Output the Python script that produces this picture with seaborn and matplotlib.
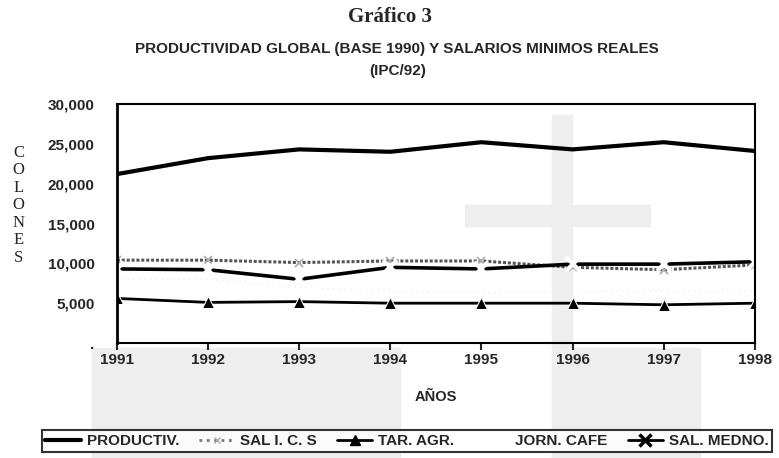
import numpy as np
import pandas as pd
import matplotlib
matplotlib.use("Agg")
import matplotlib.pyplot as plt
import seaborn as sns
from matplotlib.lines import Line2D
from matplotlib.patches import Rectangle

years = [1991, 1992, 1993, 1994, 1995, 1996, 1997, 1998]
productiv = [21200, 23200, 24300, 24000, 25200, 24300, 25200, 24100]
sal_ics = [10400, 10400, 10100, 10300, 10300, 9500, 9200, 9800]
tar_agr = [5600, 5100, 5200, 5000, 5000, 5000, 4800, 5000]
jorn_cafe = [8000, 8000, 7000, 6500, 6300, 6500, 6500, 6500]
sal_medno = [9300, 9200, 8000, 9500, 9300, 9900, 9900, 10200]

series_names = ["PRODUCTIV.", "SAL I. C. S", "TAR. AGR.", "JORN. CAFE", "SAL. MEDNO."]
y_ticks = [0, 5000, 10000, 15000, 20000, 25000, 30000]
y_tick_labels = [".", "5,000", "10,000", "15,000", "20,000", "25,000", "30,000"]

df = pd.DataFrame({
    "year": years,
    "PRODUCTIV.": productiv,
    "SAL I. C. S": sal_ics,
    "TAR. AGR.": tar_agr,
    "JORN. CAFE": jorn_cafe,
    "SAL. MEDNO.": sal_medno,
})

sns.set_style("white")
plt.rcParams["font.family"] = ["Liberation Sans", "DejaVu Sans"]

fig = plt.figure(figsize=(7.79, 4.58), dpi=100)

# faint grey watermark behind the chart
wm = "#eeeeee"
W, H = 779, 458
for (x0, y0, x1, y1) in [(552, 115, 572, 458), (465, 205, 650, 226),
                         (92, 348, 400, 458), (572, 348, 700, 458)]:
    fig.patches.append(Rectangle((x0 / W, 1 - y1 / H), (x1 - x0) / W, (y1 - y0) / H,
                                 transform=fig.transFigure, color=wm, zorder=-5))

ax = fig.add_axes([0.150, 0.251, 0.819, 0.522])
ax.patch.set_alpha(0)

# series styles (JORN. CAFE is barely visible in the original)
sns.lineplot(data=df, x="year", y="JORN. CAFE", ax=ax, color="#ededed",
             linestyle=(0, (1, 3)), linewidth=1)
sns.lineplot(data=df, x="year", y="SAL I. C. S", ax=ax, color="#555555",
             linestyle=(0, (1, 0.6)), linewidth=2.2, marker="x", markersize=6,
             markeredgecolor="#aaaaaa", markeredgewidth=1.2)
sns.lineplot(data=df, x="year", y="PRODUCTIV.", ax=ax, color="black", linewidth=3)
sns.lineplot(data=df, x="year", y="TAR. AGR.", ax=ax, color="black", linewidth=2,
             marker="^", markersize=8)
sns.lineplot(data=df, x="year", y="SAL. MEDNO.", ax=ax, color="black", linewidth=2.6,
             marker="x", markersize=10, markeredgewidth=3)

ax.set_xlim(1991, 1998)
ax.set_ylim(0, 30000)
ax.set_xticks(years)
ax.set_xticklabels([str(y) for y in years], fontsize=11, fontweight="bold")
ax.set_yticks(y_ticks)
ax.set_yticklabels(y_tick_labels, fontsize=11, fontweight="bold")
ax.tick_params(axis="x", direction="out", length=5, width=1.5, pad=2, bottom=True)
ax.tick_params(axis="y", length=0, pad=16)
for s in ax.spines.values():
    s.set_visible(True)
    s.set_color("black")
    s.set_linewidth(1.5)
ax.spines["left"].set_linewidth(2)
ax.set_xlabel("AÑOS", fontsize=10.5, fontweight="bold", labelpad=17)
ax.set_ylabel("")

# vertical "COLONES" label
fig.text(0.024, 0.552, "\n".join("COLONES"), family="Liberation Serif",
         fontsize=12, ha="center", va="center", linespacing=1.12)

fig.text(0.5, 0.963, "Gráfico 3", family="Liberation Serif", fontsize=15,
         fontweight="bold", ha="center", va="center")
fig.text(0.51, 0.893, "PRODUCTIVIDAD GLOBAL (BASE 1990) Y SALARIOS MINIMOS REALES",
         fontsize=11, fontweight="bold", ha="center", va="center")
fig.text(0.51, 0.846, "(IPC/92)", fontsize=11, fontweight="bold",
         ha="center", va="center")

handles = [
    Line2D([], [], color="black", linewidth=3),
    Line2D([], [], color="#777777", linestyle=":", linewidth=2, marker="x",
           markersize=5, markeredgecolor="#aaaaaa"),
    Line2D([], [], color="black", linewidth=2, marker="^", markersize=7),
    Line2D([], [], color="none"),
    Line2D([], [], color="black", linewidth=2, marker="x", markersize=8,
           markeredgewidth=2.5),
]
leg = fig.legend(handles, series_names, loc="center", ncol=5,
                 bbox_to_anchor=(0.5225, 0.037), frameon=True, fancybox=False,
                 handlelength=2.3, handletextpad=0.4, columnspacing=1.3,
                 borderpad=0.25, borderaxespad=0, prop={"weight": "bold", "size": 11})
leg.get_frame().set_edgecolor("black")
leg.get_frame().set_linewidth(1.5)

fig.savefig("out.png", dpi=100)
